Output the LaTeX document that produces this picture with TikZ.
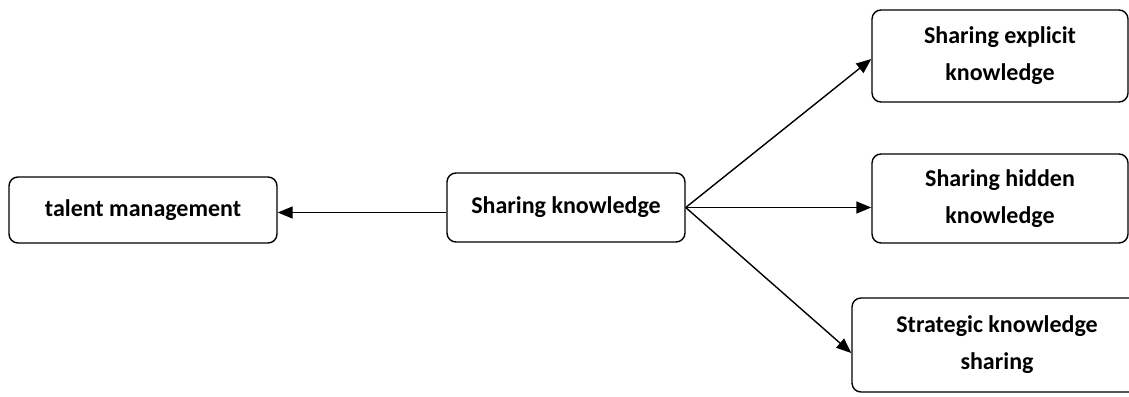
\documentclass[tikz,border=0pt]{standalone}
\usepackage{fontspec}
\setmainfont{Carlito}
\usetikzlibrary{arrows.meta}
\begin{document}
\begin{tikzpicture}[x=1pt,y=-1pt,
  box/.style={draw, line width=1.4pt, rounded corners=9pt, align=center,
    font=\bfseries\fontsize{24}{37}\selectfont, inner sep=0pt},
  conn/.style={line width=1.4pt, -{Triangle[length=15pt,width=12pt]}}]
\useasboundingbox (0,0) rectangle (1129,396);
\node[box, minimum width=268pt, minimum height=66pt] (tm) at (143,210) {talent management};
\node[box, minimum width=238pt, minimum height=69pt] (sk) at (566,207.5) {Sharing knowledge};
\node[box, minimum width=256pt, minimum height=92pt] (ex) at (1000,56) {Sharing explicit\\knowledge};
\node[box, minimum width=256pt, minimum height=89pt] (hd) at (1000,198.5) {Sharing hidden\\knowledge};
\node[box, minimum width=290pt, minimum height=94pt] (st) at (997,345) {Strategic knowledge\\sharing};
\coordinate (tmA) at ([yshift=-2.5pt]tm.east);
\draw[conn] (tmA -| sk.west) -- (tmA);
\draw[conn] (sk.east) -- ([yshift=-3pt]ex.west);
\draw[conn] (sk.east) -- (sk.east -| hd.west);
\draw[conn] (sk.east) -- ([yshift=-8pt]st.west);
\end{tikzpicture}
\end{document}
